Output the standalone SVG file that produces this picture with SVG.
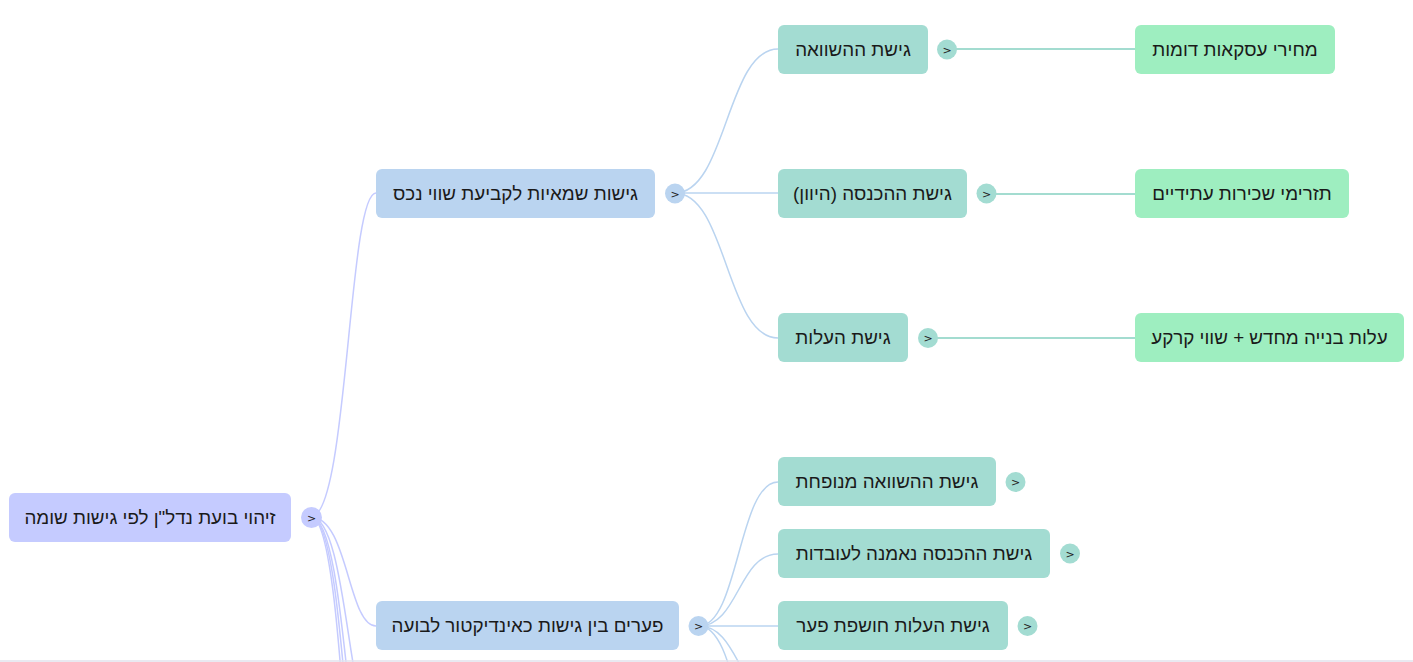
<svg xmlns="http://www.w3.org/2000/svg" width="1413" height="662" viewBox="0 0 1413 662">
<style>
.t{font-family:"Liberation Sans",Arial,sans-serif;font-size:18.8px;fill:#1a1a1a;text-anchor:middle;direction:rtl}
.tg{font-family:"DejaVu Sans","Liberation Sans",sans-serif;font-size:11px;fill:#222;text-anchor:middle;direction:ltr;unicode-bidi:embed}
.c0{fill:none;stroke:#c5cbff;stroke-width:1.5}
.c1{fill:none;stroke:#bad4f0;stroke-width:1.5}
.c2{fill:none;stroke:#a3dcd0;stroke-width:2}
.n0{fill:#c5cbff}
.n1{fill:#bad4f0}
.n2{fill:#a3dcd2}
.n3{fill:#9eeec0}
</style>
<rect x="0" y="0" width="1413" height="662" fill="#ffffff"/>
<g id="connectors">
<path class="c0" d="M311 517 C348 517 348 193 376 193"/>
<path class="c0" d="M311 517 C348 517 348 626 376 626"/>
<path class="c0" d="M311 517 C348 517 348 730 376 730"/>
<path class="c0" d="M311 517 C348 517 348 823 376 823"/>
<path class="c0" d="M311 517 C348 517 348 895 376 895"/>
<path class="c0" d="M311 517 C348 517 348 982 376 982"/>
<path class="c1" d="M675 193 C726.5 193 726.5 49 778 49"/>
<path class="c1" d="M675 193 L778 193"/>
<path class="c1" d="M675 193 C726.5 193 726.5 338 778 338"/>
<path class="c1" d="M699 626 C738.5 626 738.5 482 778 482"/>
<path class="c1" d="M699 626 C738.5 626 738.5 554 778 554"/>
<path class="c1" d="M699 626 L778 626"/>
<path class="c1" d="M699 626 C738.5 626 738.5 698 778 698"/>
<path class="c1" d="M699 626 C738.5 626 738.5 770 778 770"/>
<path class="c2" d="M947 49 L1135 49"/>
<path class="c2" d="M986 194 L1135 194"/>
<path class="c2" d="M928 338 L1135 338"/>
</g>
<g id="root">
<rect class="n0" x="9" y="493" width="282" height="49" rx="6"/>
<text class="t" x="150" y="524">זיהוי בועת נדל"ן לפי גישות שומה</text>
<circle class="n0" cx="311.5" cy="517.5" r="10.5"/>
<text class="tg" x="311.5" y="521.5">&gt;</text>
</g>
<g id="n-approaches">
<rect class="n1" x="376" y="169" width="279" height="49" rx="6"/>
<text class="t" x="515.5" y="200">גישות שמאיות לקביעת שווי נכס</text>
<circle class="n1" cx="675" cy="193.5" r="10"/>
<text class="tg" x="675" y="197.5">&gt;</text>
</g>
<g id="n-gaps">
<rect class="n1" x="376" y="601" width="303" height="49" rx="6"/>
<text class="t" x="527.5" y="632">פערים בין גישות כאינדיקטור לבועה</text>
<circle class="n1" cx="698.5" cy="626" r="10"/>
<text class="tg" x="698.5" y="630">&gt;</text>
</g>
<g id="n-compare">
<rect class="n2" x="778" y="25" width="150" height="49" rx="6"/>
<text class="t" x="853" y="56">גישת ההשוואה</text>
<circle class="n2" cx="947" cy="49.5" r="10"/>
<text class="tg" x="947" y="53.5">&gt;</text>
</g>
<g id="n-income">
<rect class="n2" x="778" y="169" width="189" height="49" rx="6"/>
<text class="t" x="872.5" y="200">גישת ההכנסה (היוון)</text>
<circle class="n2" cx="986.5" cy="193.5" r="10"/>
<text class="tg" x="986.5" y="197.5">&gt;</text>
</g>
<g id="n-cost">
<rect class="n2" x="778" y="313" width="130" height="49" rx="6"/>
<text class="t" x="843" y="344">גישת העלות</text>
<circle class="n2" cx="928" cy="338" r="10"/>
<text class="tg" x="928" y="342">&gt;</text>
</g>
<g id="n-compare-inflated">
<rect class="n2" x="778" y="457" width="218" height="49" rx="6"/>
<text class="t" x="887" y="488">גישת ההשוואה מנופחת</text>
<circle class="n2" cx="1015.5" cy="482" r="10"/>
<text class="tg" x="1015.5" y="486">&gt;</text>
</g>
<g id="n-income-true">
<rect class="n2" x="778" y="529" width="272" height="49" rx="6"/>
<text class="t" x="914" y="560">גישת ההכנסה נאמנה לעובדות</text>
<circle class="n2" cx="1070" cy="553.5" r="10"/>
<text class="tg" x="1070" y="557.5">&gt;</text>
</g>
<g id="n-cost-gap">
<rect class="n2" x="778" y="601" width="230" height="49" rx="6"/>
<text class="t" x="893" y="632">גישת העלות חושפת פער</text>
<circle class="n2" cx="1027.5" cy="626" r="10"/>
<text class="tg" x="1027.5" y="630">&gt;</text>
</g>
<g id="n-deals">
<rect class="n3" x="1135" y="25" width="200" height="49" rx="6"/>
<text class="t" x="1235" y="56">מחירי עסקאות דומות</text>
</g>
<g id="n-rent">
<rect class="n3" x="1135" y="169" width="214" height="49" rx="6"/>
<text class="t" x="1242" y="200">תזרימי שכירות עתידיים</text>
</g>
<g id="n-rebuild">
<rect class="n3" x="1135" y="313" width="269" height="49" rx="6"/>
<text class="t" x="1269.5" y="344">עלות בנייה מחדש + שווי קרקע</text>
</g>
<line x1="0" y1="661" x2="1413" y2="661" stroke="#e2e2ec" stroke-width="1.5"/>
</svg>
